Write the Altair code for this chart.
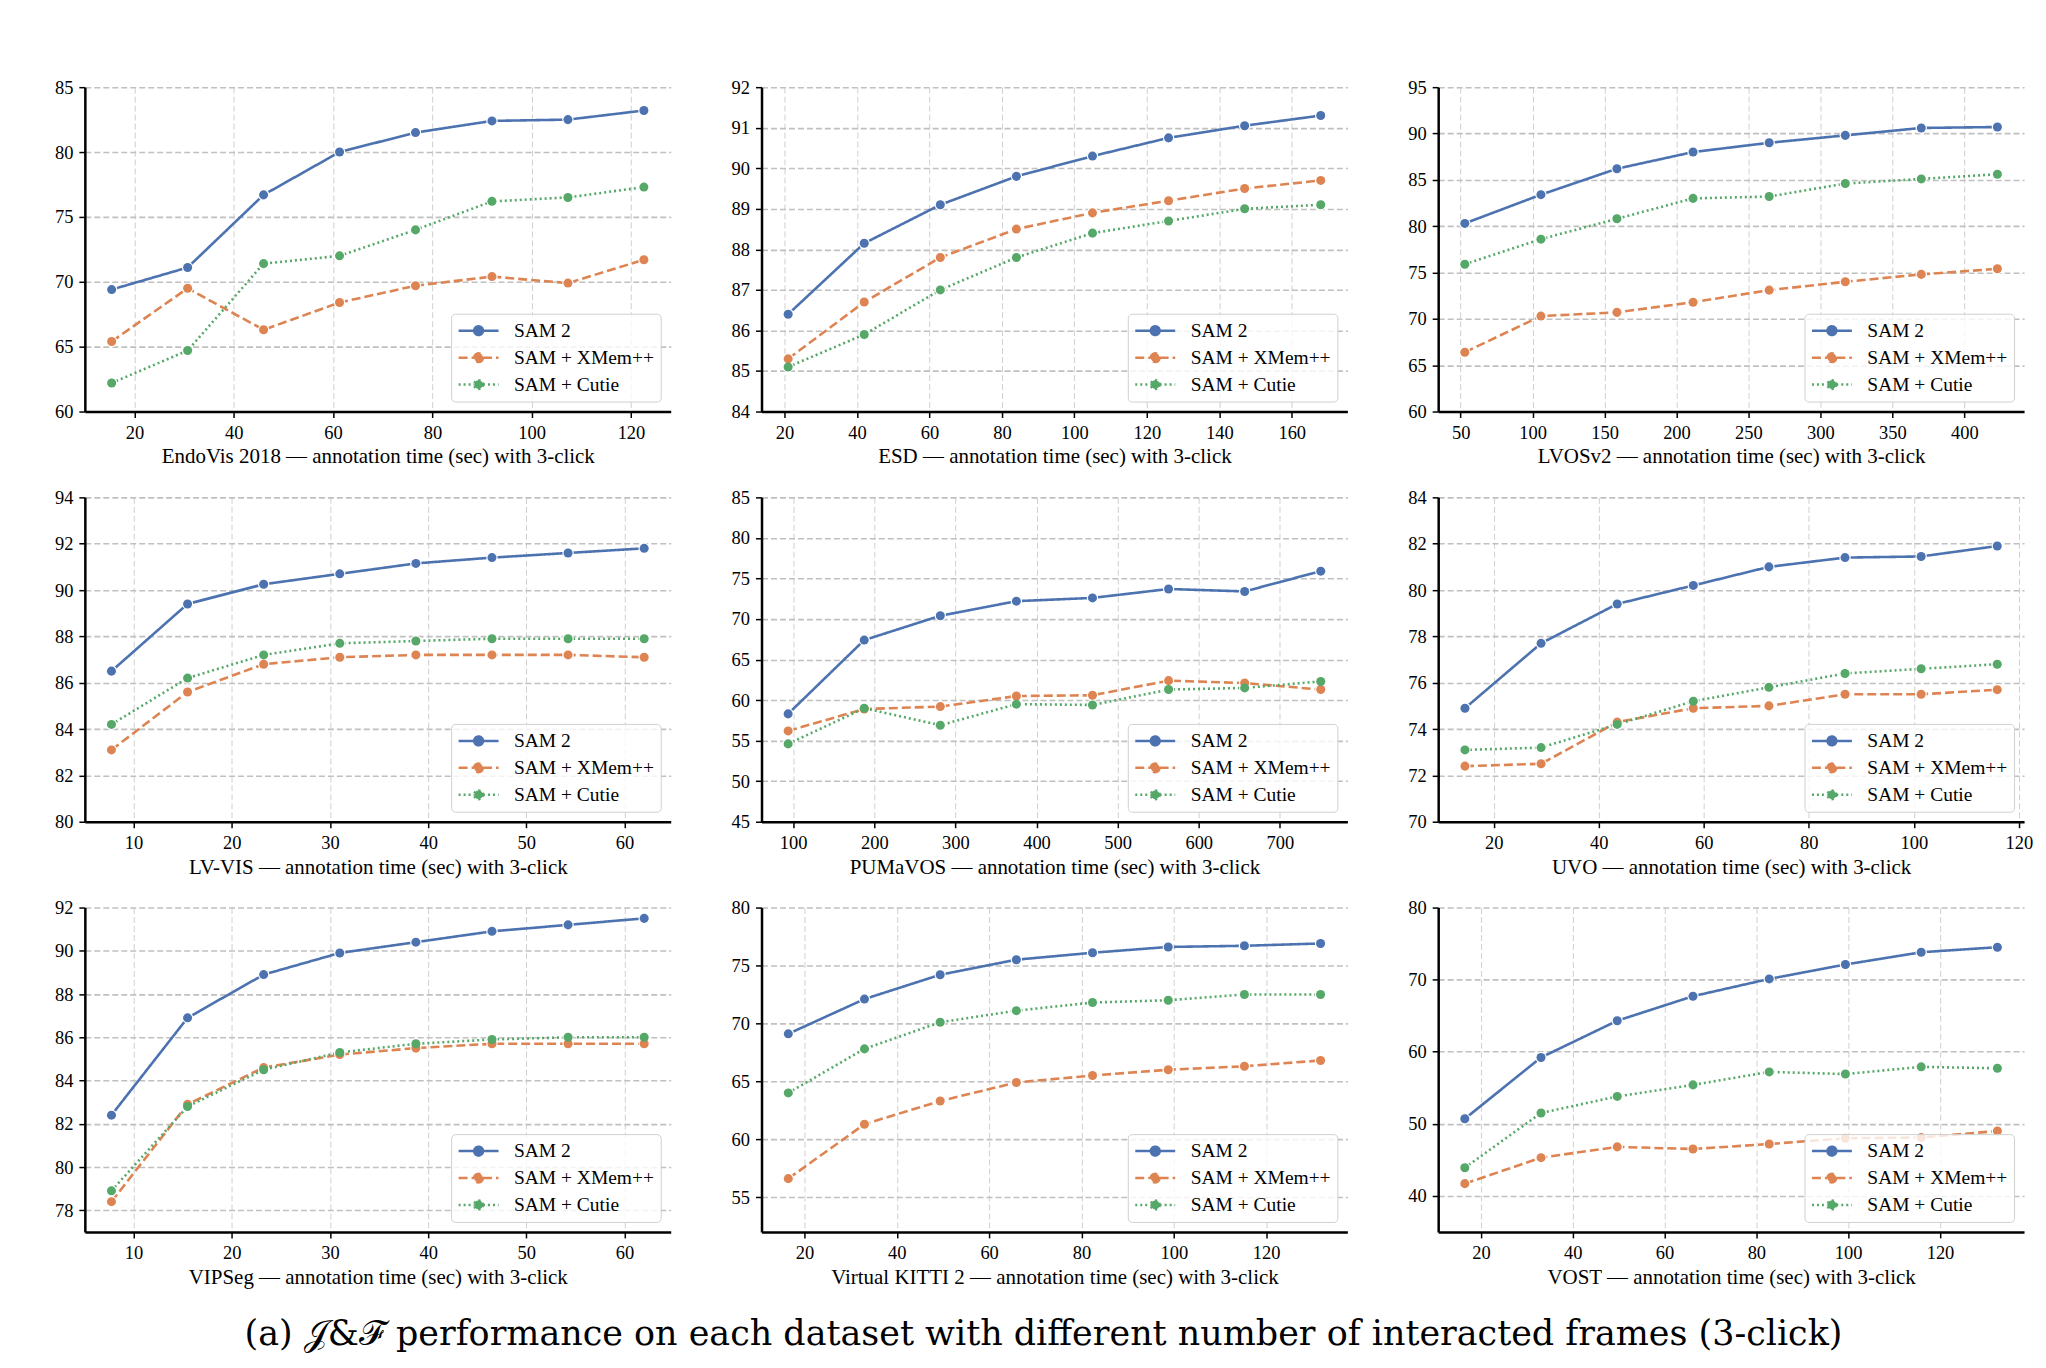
import altair as alt
import pandas as pd

methods = ["SAM 2", "SAM + XMem++", "SAM + Cutie"]
colors = ["#4C72B0", "#DD8452", "#55A868"]
dashes = [[1, 0], [9, 4], [2, 3]]

# EndoVis 2018
endovis_time = [15.4, 30.7, 46.0, 61.3, 76.6, 92.0, 107.3, 122.6]
endovis_sam2 = [69.4, 71.1, 76.7, 80.0, 81.5, 82.4, 82.5, 83.2]
endovis_xmem = [65.4, 69.5, 66.3, 68.4, 69.7, 70.4, 69.9, 71.7]
endovis_cutie = [62.2, 64.7, 71.4, 72.0, 74.0, 76.2, 76.5, 77.3]

# ESD
esd_time = [21, 42, 63, 84, 105, 126, 147, 168]
esd_sam2 = [86.4, 88.15, 89.1, 89.8, 90.3, 90.75, 91.05, 91.3]
esd_xmem = [85.3, 86.7, 87.8, 88.5, 88.9, 89.2, 89.5, 89.7]
esd_cutie = [85.1, 85.9, 87.0, 87.8, 88.4, 88.7, 89.0, 89.1]

# LVOSv2
lvos_time = [52.9, 105.8, 158.6, 211.5, 264.4, 317.3, 370.1, 423.0]
lvos_sam2 = [80.3, 83.4, 86.2, 88.0, 89.0, 89.8, 90.6, 90.7]
lvos_xmem = [66.4, 70.3, 70.7, 71.8, 73.1, 74.0, 74.8, 75.4]
lvos_cutie = [75.9, 78.6, 80.8, 83.0, 83.2, 84.6, 85.1, 85.6]

# LV-VIS
lvvis_time = [7.75, 15.5, 23.25, 31.0, 38.75, 46.5, 54.25, 62.0]
lvvis_sam2 = [86.5, 89.4, 90.25, 90.7, 91.15, 91.4, 91.6, 91.8]
lvvis_xmem = [83.1, 85.6, 86.8, 87.1, 87.2, 87.2, 87.2, 87.1]
lvvis_cutie = [84.2, 86.2, 87.2, 87.7, 87.8, 87.9, 87.9, 87.9]

# PUMaVOS
puma_time = [93.8, 187.6, 281.4, 375.2, 469.0, 562.8, 656.6, 750.4]
puma_sam2 = [58.3, 67.4, 70.4, 72.2, 72.6, 73.7, 73.4, 75.9]
puma_xmem = [56.2, 58.9, 59.2, 60.5, 60.6, 62.4, 62.1, 61.3]
puma_cutie = [54.6, 59.0, 56.9, 59.5, 59.4, 61.3, 61.5, 62.3]

# UVO
uvo_time = [14.5, 29.0, 43.5, 58.0, 72.4, 86.9, 101.4, 115.9]
uvo_sam2 = [74.9, 77.7, 79.4, 80.2, 81.0, 81.4, 81.45, 81.9]
uvo_xmem = [72.4, 72.5, 74.3, 74.9, 75.0, 75.5, 75.5, 75.7]
uvo_cutie = [73.1, 73.2, 74.2, 75.2, 75.8, 76.4, 76.6, 76.8]

# VIPSeg
vipseg_time = [7.75, 15.5, 23.25, 31.0, 38.75, 46.5, 54.25, 62.0]
vipseg_sam2 = [82.4, 86.9, 88.9, 89.9, 90.4, 90.9, 91.2, 91.5]
vipseg_xmem = [78.4, 82.9, 84.6, 85.2, 85.5, 85.7, 85.7, 85.7]
vipseg_cutie = [78.9, 82.8, 84.5, 85.3, 85.7, 85.9, 86.0, 86.0]

# Virtual KITTI 2
vkitti_time = [16.5, 33.0, 49.4, 65.9, 82.4, 98.8, 115.3, 131.8]
vkitti_sam2 = [69.1, 72.1, 74.2, 75.5, 76.1, 76.6, 76.7, 76.9]
vkitti_xmem = [56.6, 61.3, 63.3, 64.9, 65.5, 66.0, 66.3, 66.8]
vkitti_cutie = [64.0, 67.8, 70.1, 71.1, 71.8, 72.0, 72.5, 72.5]

# VOST
vost_time = [16.5, 33.1, 49.7, 66.2, 82.8, 99.4, 115.9, 132.5]
vost_sam2 = [50.7, 59.2, 64.3, 67.7, 70.1, 72.1, 73.8, 74.5]
vost_xmem = [41.7, 45.3, 46.8, 46.5, 47.2, 48.0, 48.1, 49.0]
vost_cutie = [43.9, 51.5, 53.8, 55.4, 57.2, 56.9, 57.9, 57.7]

caption = "(a) \U0001D4A5&\u2131 performance on each dataset with different number of interacted frames (3-click)"

SERIF = "Liberation Serif"
LEGEND_PATH = ("M-1,0L-0.22,0M0.22,0L1,0"
               "M0.22,0A0.22,0.22,0,1,1,-0.22,0A0.22,0.22,0,1,1,0.22,0Z")
W, H = 587, 325


def panel(name, t, s2, xm, cu, xdom, xticks, ydom, yticks):
    n = len(t)
    df = pd.DataFrame({
        "time": list(t) * 3,
        "score": list(s2) + list(xm) + list(cu),
        "method": [m for m in methods for _ in range(n)],
    })
    xenc = alt.X("time:Q", scale=alt.Scale(domain=xdom, nice=False, zero=False),
                 axis=alt.Axis(values=xticks,
                               title=f"{name} \u2014 annotation time (sec) with 3-click"))
    yenc = alt.Y("score:Q", scale=alt.Scale(domain=ydom, nice=False, zero=False),
                 axis=alt.Axis(values=yticks, title=None))
    leg = alt.Legend(title=None, symbolType=LEGEND_PATH)
    base = alt.Chart(df)
    lines = base.mark_line(strokeWidth=2.6).encode(
        x=xenc, y=yenc,
        color=alt.Color("method:N", scale=alt.Scale(domain=methods, range=colors), legend=leg),
        strokeDash=alt.StrokeDash("method:N", scale=alt.Scale(domain=methods, range=dashes), legend=leg),
    )
    halo = base.mark_point(filled=True, size=130, color="white", opacity=1).encode(
        x=xenc, y=yenc, detail="method:N")
    pts = base.mark_point(filled=True, size=82, opacity=1).encode(
        x=xenc, y=yenc,
        fill=alt.Fill("method:N", scale=alt.Scale(domain=methods, range=colors), legend=leg),
    )
    return alt.layer(lines, halo, pts).properties(width=W, height=H)


panels = [
    panel("EndoVis 2018", endovis_time, endovis_sam2, endovis_xmem, endovis_cutie,
          [10.0, 128.0], [20, 40, 60, 80, 100, 120], [60, 85], [60, 65, 70, 75, 80, 85]),
    panel("ESD", esd_time, esd_sam2, esd_xmem, esd_cutie,
          [13.65, 175.35], [20, 40, 60, 80, 100, 120, 140, 160], [84, 92],
          [84, 85, 86, 87, 88, 89, 90, 91, 92]),
    panel("LVOSv2", lvos_time, lvos_sam2, lvos_xmem, lvos_cutie,
          [34.4, 441.5], [50, 100, 150, 200, 250, 300, 350, 400], [60, 95],
          [60, 65, 70, 75, 80, 85, 90, 95]),
    panel("LV-VIS", lvvis_time, lvvis_sam2, lvvis_xmem, lvvis_cutie,
          [5.04, 64.7], [10, 20, 30, 40, 50, 60], [80, 94], [80, 82, 84, 86, 88, 90, 92, 94]),
    panel("PUMaVOS", puma_time, puma_sam2, puma_xmem, puma_cutie,
          [61.0, 783.2], [100, 200, 300, 400, 500, 600, 700], [45, 85],
          [45, 50, 55, 60, 65, 70, 75, 80, 85]),
    panel("UVO", uvo_time, uvo_sam2, uvo_xmem, uvo_cutie,
          [9.4, 121.0], [20, 40, 60, 80, 100, 120], [70, 84], [70, 72, 74, 76, 78, 80, 82, 84]),
    panel("VIPSeg", vipseg_time, vipseg_sam2, vipseg_xmem, vipseg_cutie,
          [5.04, 64.7], [10, 20, 30, 40, 50, 60], [77, 92], [78, 80, 82, 84, 86, 88, 90, 92]),
    panel("Virtual KITTI 2", vkitti_time, vkitti_sam2, vkitti_xmem, vkitti_cutie,
          [10.7, 137.6], [20, 40, 60, 80, 100, 120], [52, 80], [55, 60, 65, 70, 75, 80]),
    panel("VOST", vost_time, vost_sam2, vost_xmem, vost_cutie,
          [10.7, 138.3], [20, 40, 60, 80, 100, 120], [35, 80], [40, 50, 60, 70, 80]),
]

chart = alt.concat(
    *panels, columns=3, spacing={"row": 86, "column": 91}, bounds="flush",
    title=alt.TitleParams(text=caption, orient="bottom", anchor="middle", font="DejaVu Serif",
                          fontSize=35, fontWeight="normal", color="black", offset=30),
).resolve_scale(
    color="independent", fill="independent", strokeDash="independent"
).resolve_legend(
    color="independent", fill="independent", strokeDash="independent"
).properties(
    padding={"left": 46, "top": 69, "right": 5, "bottom": 5},
    background="white",
).configure_view(
    strokeWidth=0
).configure_axis(
    domainColor="black", domainWidth=2.5, tickColor="black", tickWidth=1.5, tickSize=6,
    labelFont=SERIF, labelFontSize=18.5, labelColor="black", labelPadding=6,
    labelFlush=False,
    titleFont=SERIF, titleFontSize=21, titleFontWeight="normal", titleColor="black",
    titlePadding=4, gridColor="#c0c0c0", gridDash=[6, 3],
).configure_axisX(
    gridWidth=1.0, gridColor="#d0d0d0"
).configure_axisY(
    gridWidth=1.6
).configure_legend(
    orient="bottom-right", offset=10, fillColor="rgba(255,255,255,0.8)",
    strokeColor="#d0d0d0", cornerRadius=4, padding=6,
    labelFont=SERIF, labelFontSize=19.5, labelColor="black", labelOffset=14,
    symbolSize=1600, symbolStrokeWidth=2.5, clipHeight=22, rowPadding=5,
)

chart.save("out.html", embed_options={"renderer": "svg", "actions": False})
